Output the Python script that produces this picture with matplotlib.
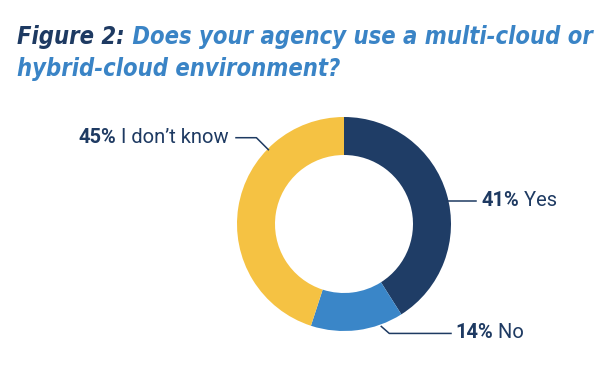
import numpy as np
import matplotlib
matplotlib.use('Agg')
import matplotlib.pyplot as plt

labels = ['Yes', 'No', "I don\u2019t know"]
shares = [41, 14, 45]
colors = ['#1f3d66', '#3a86c8', '#f5c243']
# leader line anchor angle on the ring (deg)
anchor_deg = [12.5, -70.0, 135.5]

navy = '#1e3a62'
blue = '#3a84c6'

fig = plt.figure(figsize=(6.08, 3.68), dpi=100)
ax = fig.add_axes([0, 0, 1, 1])

cx, cy, R = 344, 144, 107
ax.pie(shares, colors=colors, startangle=90, counterclock=False,
       center=(cx, cy), radius=R, frame=True,
       wedgeprops=dict(width=38, linewidth=0))
ax.set_xlim(0, 608)
ax.set_ylim(0, 368)
ax.set_aspect('equal')
ax.axis('off')

title_font = dict(family=['DejaVu Sans'], stretch='condensed',
                  weight='bold', style='italic', size=17)
t1 = ax.text(17, 324, 'Figure 2:', color=navy, va='baseline', **title_font)
ax.annotate(' Does your agency use a multi-cloud or', xy=(1, 0),
            xycoords=t1, va='bottom', color=blue, **title_font)
ax.text(17, 292, 'hybrid-cloud environment?', color=blue, va='baseline',
        **title_font)

lab_font = dict(family=['Roboto', 'DejaVu Sans'], size=14.5)

def label(x, y, pct, name, ha='left'):
    if ha == 'left':
        t = ax.text(x, y, f'{pct}%', color=navy, weight='bold', va='center',
                    **lab_font)
        ax.annotate(' ' + name, xy=(1, 0.5), xycoords=t, va='center',
                    color=navy, **lab_font)
    else:
        t = ax.text(x, y, ' ' + name, color=navy, va='center', ha='right',
                    **lab_font)
        ax.annotate(f'{pct}%', xy=(0, 0.5), xycoords=t, va='center',
                    ha='right', color=navy, weight='bold', **lab_font)

def ring_pt(deg, r=R):
    a = np.deg2rad(deg)
    return cx + r * np.cos(a), cy + r * np.sin(a)

# Yes
x0, y0 = ring_pt(anchor_deg[0], R - 1)
ax.plot([x0, 476], [y0, y0], color=navy, lw=1.1)
label(481, y0 + 1, shares[0], labels[0])

# No
x0, y0 = ring_pt(anchor_deg[1], R + 2)
ax.plot([x0, x0 + 8, 451], [y0, y0 - 7, y0 - 7], color=navy, lw=1.1)
label(455, y0 - 6, shares[1], labels[1])

# I don't know
x0, y0 = ring_pt(anchor_deg[2], R - 1)
ax.plot([x0, x0 - 12, 236], [y0, y0 + 12, y0 + 12], color=navy, lw=1.1)
label(229, y0 + 12, shares[2], labels[2], ha='right')

fig.savefig('out.png', dpi=100)
